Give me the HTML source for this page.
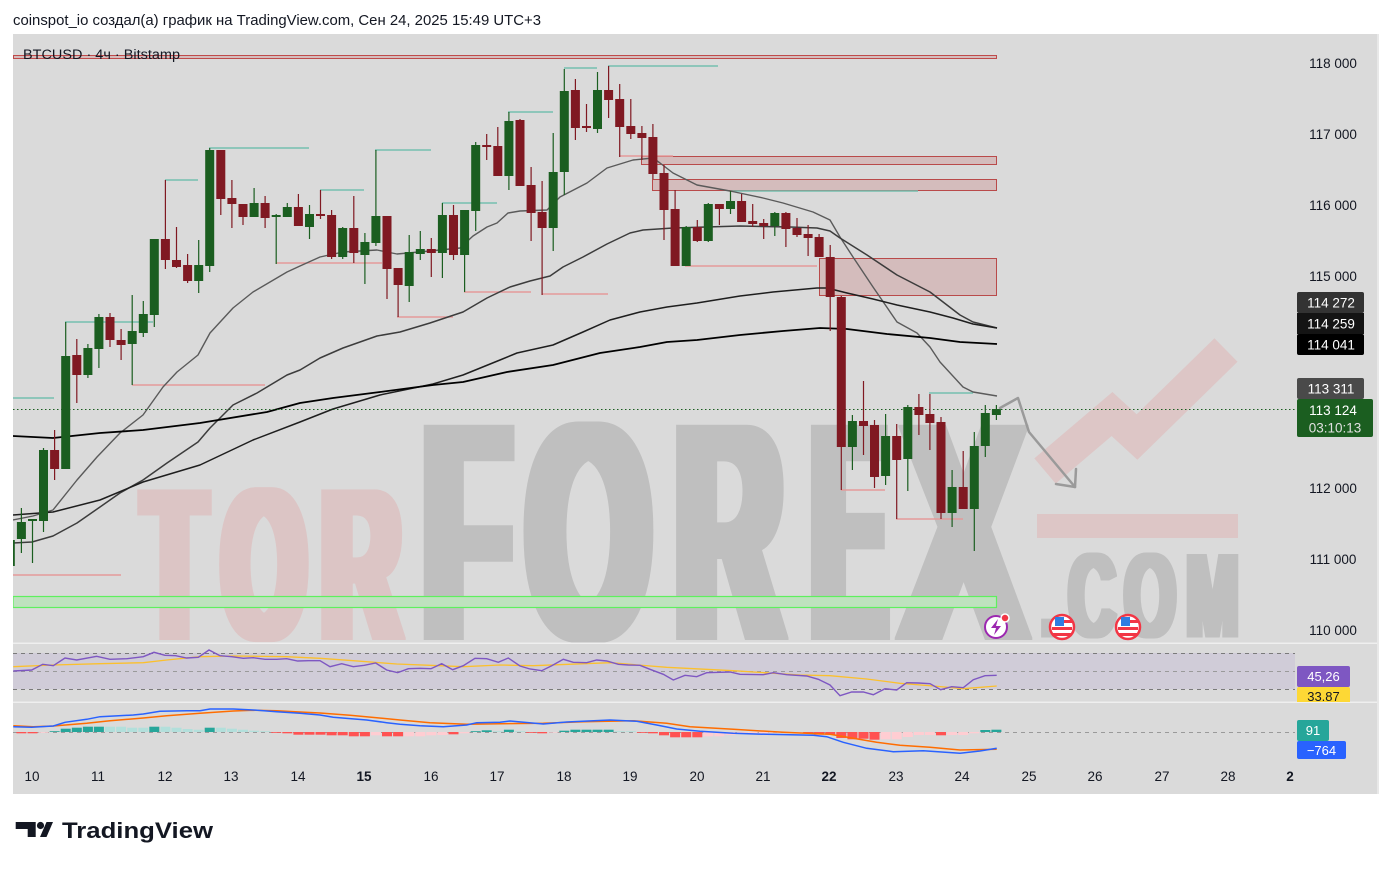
<!DOCTYPE html>
<html><head><meta charset="utf-8"><style>html,body{margin:0;padding:0;background:#fff;}svg{display:block;}</style></head>
<body>
<svg xmlns="http://www.w3.org/2000/svg" width="1391" height="869" viewBox="0 0 1391 869" font-family="Liberation Sans, sans-serif">
<defs>
<clipPath id="mp"><rect x="13" y="34" width="1282" height="609"/></clipPath>
<clipPath id="rp"><rect x="13" y="644" width="1365" height="58"/></clipPath>
<filter id="thk10" x="-20%" y="-10%" width="140%" height="120%"><feMorphology operator="dilate" radius="10 1"/></filter>
<filter id="thk8" x="-20%" y="-10%" width="140%" height="120%"><feMorphology operator="dilate" radius="8 1"/></filter>
<filter id="thk4" x="-20%" y="-10%" width="140%" height="120%"><feMorphology operator="dilate" radius="4 0.5"/></filter>
</defs>
<rect x="0" y="0" width="1391" height="869" fill="#fff"/>
<text x="13" y="25" font-size="14.5" fill="#131722" textLength="528" lengthAdjust="spacingAndGlyphs">coinspot_io создал(а) график на TradingView.com, Сен 24, 2025 15:49 UTC+3</text>
<rect x="13" y="34" width="1364" height="760" fill="#dadada"/>
<rect x="1377" y="34" width="2" height="760" fill="#e8e8e8"/>

<g clip-path="url(#mp)">
<!-- watermark -->
<g fill="#dcc5c5" font-weight="bold" font-size="216" text-anchor="middle" filter="url(#thk8)">
<text transform="translate(174.5,639) scale(0.46,1)">T</text>
<text transform="translate(264,639) scale(0.49,1)">O</text>
<text transform="translate(361,639) scale(0.5,1)">R</text>
</g>
<g fill="#bfbfbf" font-weight="bold" font-size="310" text-anchor="middle" filter="url(#thk10)">
<text transform="translate(467,639) scale(0.45,1)">F</text>
<text transform="translate(588.5,639) scale(0.51,1)">O</text>
<text transform="translate(729,639) scale(0.47,1)">R</text>
<text transform="translate(849,639) scale(0.34,1)">E</text>
<text transform="translate(963.5,639) scale(0.585,1)">X</text>
</g>
<g fill="#bfbfbf" font-weight="bold" font-size="120" text-anchor="middle" filter="url(#thk4)">
<text transform="translate(1052,637) scale(0.8,1)">.</text>
<text transform="translate(1092,637) scale(0.54,1)">C</text>
<text transform="translate(1150,637) scale(0.55,1)">O</text>
<text transform="translate(1212.5,637) scale(0.52,1)">M</text>
</g>
<polyline points="1045,471 1112,414 1137,437 1226,350" fill="none" stroke="#ddc6c6" stroke-width="33"/>
<rect x="1037" y="514" width="201" height="24" fill="#ddc6c6"/>

<!-- zones -->
<rect x="13.5" y="55.5" width="983" height="3" fill="#d4bcbc" stroke="#bf4a4a" stroke-width="1"/>
<rect x="641.5" y="156.5" width="355" height="8" fill="#d4bcbc" stroke="#b94a4a" stroke-width="1"/>
<rect x="652.5" y="179.5" width="344" height="11" fill="#d4bcbc" stroke="#b94a4a" stroke-width="1"/>
<rect x="819.5" y="258.5" width="177" height="37" fill="#d4bcbc" stroke="#b94a4a" stroke-width="1"/>
<rect x="13" y="596.5" width="983.5" height="11" fill="#bee2be" stroke="#5ef05e" stroke-width="1.2"/>

<!-- teal highs -->
<g stroke="#74bfb0" stroke-width="1.6">
<line x1="13" y1="398" x2="54" y2="398"/>
<line x1="165" y1="180" x2="198" y2="180"/>
<line x1="209" y1="148" x2="309" y2="148"/>
<line x1="65" y1="322" x2="153" y2="322"/>
<line x1="320" y1="190" x2="364" y2="190"/>
<line x1="375" y1="150" x2="431" y2="150"/>
<line x1="442" y1="203" x2="497" y2="203"/>
<line x1="508" y1="112" x2="553" y2="112"/>
<line x1="564" y1="68" x2="597" y2="68"/>
<line x1="608" y1="66" x2="718" y2="66"/>
<line x1="730" y1="191" x2="918" y2="191"/>
<line x1="929" y1="393" x2="973" y2="393"/>
</g>
<g stroke="#e49a9a" stroke-width="1.6">
<line x1="13" y1="575" x2="121" y2="575"/>
<line x1="132" y1="385" x2="265" y2="385"/>
<line x1="276" y1="263" x2="382" y2="263"/>
<line x1="397" y1="317" x2="453" y2="317"/>
<line x1="464" y1="292" x2="531" y2="292"/>
<line x1="542" y1="294" x2="608" y2="294"/>
<line x1="619" y1="156" x2="673" y2="156"/>
<line x1="685" y1="266" x2="817" y2="266"/>
<line x1="841" y1="490" x2="885" y2="490"/>
<line x1="896" y1="519" x2="963" y2="519"/>
</g>

<!-- moving averages -->
<g fill="none" stroke-linejoin="round">
<polyline stroke="#5a5a5a" stroke-width="1.4" points="13,520 33,516 53,510 77,480 97,457 120,433 143,415 163,387 177,372 198,355 210,333 233,308 253,292 287,272 300,266 320,257 343,252 377,250 397,254 430,251 460,248 473,236 487,227 497,223 508,213 520,211 547,210 560,197 587,183 607,168 633,160 653,158 660,163 673,173 697,185 730,191 763,198 783,203 813,212 830,220 840,237 853,257 873,287 897,322 917,333 930,347 940,362 963,387 973,392 997,396"/>
<polyline stroke="#3c3c3c" stroke-width="1.5" points="13,543 32,542 53,536 77,523 100,507 120,493 143,480 167,463 198,442 210,428 233,405 257,393 287,375 300,370 320,358 343,348 377,336 400,332 430,323 463,312 487,298 510,287 530,281 550,276 563,267 583,257 607,244 630,233 643,230 673,228 740,226 790,227 817,228 830,231 840,238 867,255 897,275 930,292 960,315 973,322 997,328"/>
<polyline stroke="#1e1e1e" stroke-width="1.5" points="13,515 53,512 100,500 143,482 200,465 253,440 300,422 333,409 380,395 433,384 463,375 500,360 517,353 553,345 583,332 610,320 640,312 667,307 697,303 740,296 773,292 817,288 827,288 847,293 873,299 897,305 930,312 953,318 973,324 997,328"/>
<polyline stroke="#000" stroke-width="1.8" points="13,436 53,438 100,433 143,430 200,423 267,412 300,403 333,398 380,392 433,385 463,382 507,372 553,365 600,353 640,347 667,342 697,340 740,335 783,331 820,328 847,329 887,334 930,338 960,342 997,344"/>
</g>

<!-- price line -->
<line x1="13" y1="409.5" x2="1295" y2="409.5" stroke="#1b5e20" stroke-width="1" stroke-dasharray="1.5,2.5"/>

<!-- green candles -->
<g fill="#1b5e20">
<rect x="5.8" y="540" width="9" height="26"/><rect x="9.7" y="538" width="1.2" height="30"/>
<rect x="16.9" y="522" width="9" height="17"/><rect x="20.8" y="508" width="1.2" height="45"/>
<rect x="28" y="519" width="9" height="2"/><rect x="31.9" y="519" width="1.2" height="44"/>
<rect x="39" y="450" width="9" height="71"/><rect x="42.9" y="448" width="1.2" height="84"/>
<rect x="61.2" y="356" width="9" height="113"/><rect x="65.1" y="322" width="1.2" height="147"/>
<rect x="83.4" y="348" width="9" height="27"/><rect x="87.3" y="344" width="1.2" height="34"/>
<rect x="94.4" y="317" width="9" height="32"/><rect x="98.3" y="314" width="1.2" height="54"/>
<rect x="127.7" y="331" width="9" height="13"/><rect x="131.6" y="295" width="1.2" height="90"/>
<rect x="138.8" y="314" width="9" height="19"/><rect x="142.7" y="301" width="1.2" height="36"/>
<rect x="149.8" y="239" width="9" height="76"/><rect x="153.7" y="239" width="1.2" height="88"/>
<rect x="194.2" y="265" width="9" height="16"/><rect x="198.1" y="240" width="1.2" height="53"/>
<rect x="205.2" y="150" width="9" height="116"/><rect x="209.1" y="148" width="1.2" height="124"/>
<rect x="249.6" y="203" width="9" height="14"/><rect x="253.5" y="188" width="1.2" height="29"/>
<rect x="271.7" y="215" width="9" height="2"/><rect x="275.6" y="214" width="1.2" height="50"/>
<rect x="282.8" y="207" width="9" height="10"/><rect x="286.7" y="203" width="1.2" height="14"/>
<rect x="305" y="214" width="9" height="13"/><rect x="308.9" y="205" width="1.2" height="34"/>
<rect x="338.2" y="228" width="9" height="29"/><rect x="342.1" y="227" width="1.2" height="32"/>
<rect x="360.4" y="242" width="9" height="13"/><rect x="364.3" y="233" width="1.2" height="51"/>
<rect x="371.4" y="216" width="9" height="27"/><rect x="375.3" y="150" width="1.2" height="96"/>
<rect x="404.7" y="252" width="9" height="34"/><rect x="408.6" y="235" width="1.2" height="67"/>
<rect x="415.8" y="249" width="9" height="5"/><rect x="419.7" y="231" width="1.2" height="29"/>
<rect x="437.9" y="215" width="9" height="38"/><rect x="441.8" y="203" width="1.2" height="75"/>
<rect x="460.1" y="210" width="9" height="45"/><rect x="464" y="210" width="1.2" height="82"/>
<rect x="471.2" y="145" width="9" height="66"/><rect x="475.1" y="142" width="1.2" height="89"/>
<rect x="504.4" y="121" width="9" height="55"/><rect x="508.3" y="112" width="1.2" height="78"/>
<rect x="548.7" y="172" width="9" height="56"/><rect x="552.6" y="133" width="1.2" height="118"/>
<rect x="559.8" y="91" width="9" height="81"/><rect x="563.7" y="69" width="1.2" height="126"/>
<rect x="593" y="90" width="9" height="39"/><rect x="596.9" y="72" width="1.2" height="61"/>
<rect x="681.7" y="227" width="9" height="39"/><rect x="685.6" y="226" width="1.2" height="40"/>
<rect x="703.8" y="204" width="9" height="37"/><rect x="707.7" y="203" width="1.2" height="39"/>
<rect x="726" y="201" width="9" height="8"/><rect x="729.9" y="191" width="1.2" height="23"/>
<rect x="770.3" y="213" width="9" height="13"/><rect x="774.2" y="212" width="1.2" height="24"/>
<rect x="847.9" y="421" width="9" height="26"/><rect x="851.8" y="415" width="1.2" height="55"/>
<rect x="881.1" y="436" width="9" height="40"/><rect x="885" y="414" width="1.2" height="71"/>
<rect x="903.3" y="407" width="9" height="52"/><rect x="907.2" y="405" width="1.2" height="86"/>
<rect x="947.6" y="487" width="9" height="26"/><rect x="951.5" y="470" width="1.2" height="57"/>
<rect x="969.8" y="446" width="9" height="63"/><rect x="973.7" y="432" width="1.2" height="119"/>
<rect x="980.8" y="413" width="9" height="33"/><rect x="984.7" y="405" width="1.2" height="52"/>
<rect x="991.9" y="409" width="9" height="6"/><rect x="995.8" y="405" width="1.2" height="15"/>
</g>
<!-- red candles -->
<g fill="#801922">
<rect x="50.1" y="450" width="9" height="19"/><rect x="54" y="430" width="1.2" height="50"/>
<rect x="72.3" y="355" width="9" height="20"/><rect x="76.2" y="339" width="1.2" height="64"/>
<rect x="105.5" y="317" width="9" height="23"/><rect x="109.4" y="313" width="1.2" height="34"/>
<rect x="116.6" y="340" width="9" height="5"/><rect x="120.5" y="329" width="1.2" height="31"/>
<rect x="160.9" y="239" width="9" height="21"/><rect x="164.8" y="180" width="1.2" height="89"/>
<rect x="172" y="260" width="9" height="7"/><rect x="175.9" y="227" width="1.2" height="41"/>
<rect x="183.1" y="265" width="9" height="16"/><rect x="187" y="254" width="1.2" height="29"/>
<rect x="216.3" y="150" width="9" height="49"/><rect x="220.2" y="150" width="1.2" height="65"/>
<rect x="227.4" y="198" width="9" height="6"/><rect x="231.3" y="180" width="1.2" height="48"/>
<rect x="238.5" y="204" width="9" height="13"/><rect x="242.4" y="204" width="1.2" height="21"/>
<rect x="260.6" y="203" width="9" height="15"/><rect x="264.5" y="196" width="1.2" height="32"/>
<rect x="293.9" y="207" width="9" height="19"/><rect x="297.8" y="194" width="1.2" height="32"/>
<rect x="316" y="214" width="9" height="2"/><rect x="319.9" y="190" width="1.2" height="29"/>
<rect x="327.1" y="215" width="9" height="42"/><rect x="331" y="210" width="1.2" height="49"/>
<rect x="349.3" y="228" width="9" height="25"/><rect x="353.2" y="196" width="1.2" height="67"/>
<rect x="382.5" y="216" width="9" height="53"/><rect x="386.4" y="216" width="1.2" height="83"/>
<rect x="393.6" y="268" width="9" height="17"/><rect x="397.5" y="268" width="1.2" height="49"/>
<rect x="426.8" y="249" width="9" height="4"/><rect x="430.7" y="238" width="1.2" height="39"/>
<rect x="449" y="215" width="9" height="40"/><rect x="452.9" y="205" width="1.2" height="55"/>
<rect x="482.2" y="145" width="9" height="2"/><rect x="486.1" y="134" width="1.2" height="26"/>
<rect x="493.3" y="146" width="9" height="30"/><rect x="497.2" y="127" width="1.2" height="49"/>
<rect x="515.5" y="120" width="9" height="66"/><rect x="519.4" y="119" width="1.2" height="67"/>
<rect x="526.6" y="185" width="9" height="28"/><rect x="530.5" y="167" width="1.2" height="74"/>
<rect x="537.6" y="212" width="9" height="16"/><rect x="541.5" y="181" width="1.2" height="114"/>
<rect x="570.9" y="90" width="9" height="38"/><rect x="574.8" y="79" width="1.2" height="61"/>
<rect x="582" y="126" width="9" height="2"/><rect x="585.9" y="104" width="1.2" height="28"/>
<rect x="604.1" y="90" width="9" height="10"/><rect x="608" y="66" width="1.2" height="52"/>
<rect x="615.2" y="99" width="9" height="28"/><rect x="619.1" y="84" width="1.2" height="73"/>
<rect x="626.3" y="126" width="9" height="8"/><rect x="630.2" y="99" width="1.2" height="40"/>
<rect x="637.4" y="133" width="9" height="5"/><rect x="641.3" y="126" width="1.2" height="34"/>
<rect x="648.4" y="137" width="9" height="37"/><rect x="652.3" y="124" width="1.2" height="55"/>
<rect x="659.5" y="173" width="9" height="37"/><rect x="663.4" y="165" width="1.2" height="75"/>
<rect x="670.6" y="209" width="9" height="57"/><rect x="674.5" y="190" width="1.2" height="76"/>
<rect x="692.8" y="227" width="9" height="14"/><rect x="696.7" y="220" width="1.2" height="22"/>
<rect x="714.9" y="204" width="9" height="5"/><rect x="718.8" y="204" width="1.2" height="21"/>
<rect x="737.1" y="201" width="9" height="21"/><rect x="741" y="194" width="1.2" height="28"/>
<rect x="748.2" y="221" width="9" height="3"/><rect x="752.1" y="204" width="1.2" height="23"/>
<rect x="759.2" y="223" width="9" height="3"/><rect x="763.1" y="219" width="1.2" height="20"/>
<rect x="781.4" y="213" width="9" height="16"/><rect x="785.3" y="212" width="1.2" height="35"/>
<rect x="792.5" y="228" width="9" height="7"/><rect x="796.4" y="218" width="1.2" height="19"/>
<rect x="803.6" y="234" width="9" height="4"/><rect x="807.5" y="225" width="1.2" height="31"/>
<rect x="814.6" y="237" width="9" height="20"/><rect x="818.5" y="234" width="1.2" height="23"/>
<rect x="825.7" y="257" width="9" height="40"/><rect x="829.6" y="245" width="1.2" height="86"/>
<rect x="836.8" y="297" width="9" height="150"/><rect x="840.7" y="296" width="1.2" height="194"/>
<rect x="859" y="421" width="9" height="5"/><rect x="862.9" y="381" width="1.2" height="74"/>
<rect x="870" y="425" width="9" height="52"/><rect x="873.9" y="420" width="1.2" height="68"/>
<rect x="892.2" y="436" width="9" height="24"/><rect x="896.1" y="424" width="1.2" height="95"/>
<rect x="914.4" y="407" width="9" height="8"/><rect x="918.3" y="394" width="1.2" height="41"/>
<rect x="925.4" y="414" width="9" height="9"/><rect x="929.3" y="394" width="1.2" height="56"/>
<rect x="936.5" y="422" width="9" height="91"/><rect x="940.4" y="417" width="1.2" height="102"/>
<rect x="958.7" y="487" width="9" height="22"/><rect x="962.6" y="451" width="1.2" height="58"/>
</g>

<!-- drawn arrow -->
<g fill="none" stroke="#9a9a9a" stroke-width="2.5" stroke-linejoin="round" stroke-linecap="round">
<polyline points="1000,408 1018,398 1029,432 1075,487"/>
<polyline points="1056,484 1075,487 1076,469"/>
</g>

<!-- event icons -->
<g>
<circle cx="996" cy="627" r="11" fill="#fff" stroke="#9c27b0" stroke-width="2"/>
<path d="M998,619 L991,628 L996,628 L994,635 L1001,626 L996,626 Z" fill="#9c27b0"/>
<circle cx="1005" cy="618" r="4" fill="#f23645" stroke="#fff" stroke-width="1.5"/>
<g>
<circle cx="1062" cy="627" r="12" fill="#fff" stroke="#f23645" stroke-width="2.5"/>
<rect x="1055" y="617" width="9" height="9" fill="#2f7de1"/>
<rect x="1064" y="620" width="8" height="3" fill="#f23645"/>
<rect x="1052" y="627" width="20" height="3" fill="#f23645"/>
<rect x="1053" y="633" width="18" height="3" fill="#f23645"/>
</g>
<g>
<circle cx="1128" cy="627" r="12" fill="#fff" stroke="#f23645" stroke-width="2.5"/>
<rect x="1121" y="617" width="9" height="9" fill="#2f7de1"/>
<rect x="1130" y="620" width="8" height="3" fill="#f23645"/>
<rect x="1118" y="627" width="20" height="3" fill="#f23645"/>
<rect x="1119" y="633" width="18" height="3" fill="#f23645"/>
</g>
</g>
</g>

<text x="23" y="59" font-size="13.5" fill="#131722" textLength="157" lengthAdjust="spacingAndGlyphs">BTCUSD · 4ч · Bitstamp</text>

<!-- pane separators -->
<rect x="13" y="642.5" width="1364" height="1.5" fill="#efefef"/>
<rect x="13" y="701.5" width="1364" height="1.5" fill="#efefef"/>

<!-- RSI pane -->
<g clip-path="url(#rp)">
<rect x="13" y="653" width="1282" height="36" fill="#d0ccd8"/>
<g stroke-width="1" stroke-dasharray="4,4" fill="none">
<line x1="13" y1="653.5" x2="1295" y2="653.5" stroke="#7a7a7a"/>
<line x1="13" y1="671.5" x2="1295" y2="671.5" stroke="#9a9a9a"/>
<line x1="13" y1="689.5" x2="1295" y2="689.5" stroke="#7a7a7a"/>
</g>
<polyline fill="none" stroke="#fbc02d" stroke-width="1.3" points="13.3,666.7 53.3,665 100,663.7 143.3,662.7 166.7,660 200,656.7 233.3,656 286.7,656.7 320,658.3 353.3,660.7 396.7,664 430,665.3 463.3,666.7 500,665 533.3,665.7 610,662.7 666.7,667.3 733.3,670.7 800,675 830,675.7 866.7,679 900,683.3 933.3,686 963.3,688.7 996.7,686"/>
<polyline fill="none" stroke="#7e57c2" stroke-width="1.4" points="13.3,671 31.7,670 42.7,664.3 53.3,665.7 65,658 76.7,660 96.7,656.3 110,659.3 126.7,658.7 143.3,656.7 154,652.3 165,655.3 175.7,655.7 186.7,658 198.3,657.3 209,650 220,655.7 231.7,656.7 243.3,658.3 253.3,657.7 265,659.3 276.7,659.3 286.7,658.7 297.7,661 308.3,660.7 320,660.7 330,666.7 341.7,663.7 353.3,666.7 364.3,665.3 375.7,663 386.7,670 397.7,672.7 408.3,668.7 420,668.3 431,668.7 441.7,663.7 452.7,669.7 463.3,665.7 475,658.3 486.7,658.7 498.3,662.3 508.3,658 520,666 530,669 541.7,670.7 551.7,665.7 563.3,659.3 573.3,662.3 586.7,662.7 596.7,660 606.7,661 618.3,664.3 628.3,665 640,665.3 650,669.3 663.3,674.3 673.3,680 685,675.3 696.7,676.7 706.7,672.7 720,672.3 730,672 740,674.3 763.3,674.7 773.3,672.7 786.7,674.7 806.7,676 818.3,679.3 830,685 840,695.7 851.7,692 863.3,692 873.3,694.7 885,688.7 896.7,690 906.7,682.7 918.3,683 930,683.7 940.7,689.7 951.7,686.7 963.3,687.7 973.3,679.7 985,675.7 996.7,675.3"/>
<text x="1322" y="676" font-size="13" fill="#131722" text-anchor="middle">50,00</text>
<rect x="1297" y="666" width="53" height="21" rx="2" fill="#7e57c2"/>
<text x="1323.5" y="681" font-size="13" fill="#fff" text-anchor="middle">45,26</text>
<rect x="1297" y="687" width="53" height="21" rx="2" fill="#fdd835"/>
<text x="1323.5" y="701" font-size="13" fill="#131722" text-anchor="middle">33.87</text>
</g>

<!-- MACD pane -->
<line x1="13" y1="732.5" x2="1295" y2="732.5" stroke="#9a9a9a" stroke-width="1" stroke-dasharray="4,4"/>
<g>
<g fill="#ff5252">
<rect x="16.4" y="732" width="10" height="1.3"/><rect x="27.5" y="732" width="10" height="1.3"/>
<rect x="271.2" y="732" width="10" height="0.8"/><rect x="282.3" y="732" width="10" height="1.3"/>
<rect x="293.4" y="732" width="10" height="2.7"/><rect x="304.5" y="732" width="10" height="2.7"/>
<rect x="315.5" y="732" width="10" height="2.7"/><rect x="326.6" y="732" width="10" height="3.3"/>
<rect x="337.7" y="732" width="10" height="3.3"/><rect x="348.8" y="732" width="10" height="4.3"/>
<rect x="359.9" y="732" width="10" height="4.3"/><rect x="382" y="732" width="10" height="4.3"/>
<rect x="393.1" y="732" width="10" height="4.3"/><rect x="448.5" y="732" width="10" height="2.3"/>
<rect x="526.1" y="732" width="10" height="0.8"/><rect x="537.1" y="732" width="10" height="1.3"/>
<rect x="636.9" y="732" width="10" height="0.8"/><rect x="647.9" y="732" width="10" height="1.3"/>
<rect x="659" y="732" width="10" height="3.3"/><rect x="670.1" y="732" width="10" height="5.3"/>
<rect x="681.2" y="732" width="10" height="5.3"/><rect x="692.3" y="732" width="10" height="5.3"/>
<rect x="803.1" y="732" width="10" height="1"/><rect x="814.1" y="732" width="10" height="2.7"/>
<rect x="825.2" y="732" width="10" height="2.7"/><rect x="836.3" y="732" width="10" height="6"/>
<rect x="847.4" y="732" width="10" height="7.3"/><rect x="858.5" y="732" width="10" height="6.7"/>
<rect x="869.5" y="732" width="10" height="7.7"/><rect x="936" y="732" width="10" height="3.3"/>
</g>
<g fill="#ffcdd2">
<rect x="38.5" y="732" width="10" height="0.8"/><rect x="370.9" y="732" width="10" height="3.3"/>
<rect x="404.2" y="732" width="10" height="4.3"/><rect x="415.3" y="732" width="10" height="4.3"/>
<rect x="426.3" y="732" width="10" height="3.3"/><rect x="437.4" y="732" width="10" height="3"/>
<rect x="459.6" y="732" width="10" height="1.3"/><rect x="548.2" y="732" width="10" height="0.6"/>
<rect x="703.3" y="732" width="10" height="4.3"/><rect x="714.4" y="732" width="10" height="4.3"/>
<rect x="725.5" y="732" width="10" height="3"/><rect x="736.6" y="732" width="10" height="2"/>
<rect x="747.7" y="732" width="10" height="1.3"/><rect x="758.7" y="732" width="10" height="1.3"/>
<rect x="769.8" y="732" width="10" height="0.8"/><rect x="780.9" y="732" width="10" height="0.6"/>
<rect x="792" y="732" width="10" height="0.6"/><rect x="880.6" y="732" width="10" height="7.3"/>
<rect x="891.7" y="732" width="10" height="7.3"/><rect x="902.8" y="732" width="10" height="5"/>
<rect x="913.9" y="732" width="10" height="3"/><rect x="924.9" y="732" width="10" height="3"/>
<rect x="947.1" y="732" width="10" height="3"/><rect x="958.2" y="732" width="10" height="3"/>
<rect x="969.3" y="732" width="10" height="1.3"/>
</g>
<g fill="#26a69a">
<rect x="49.6" y="731.2" width="10" height="0.8"/><rect x="60.7" y="728.7" width="10" height="3.3"/>
<rect x="71.8" y="727.7" width="10" height="4.3"/><rect x="82.9" y="726.7" width="10" height="5.3"/>
<rect x="93.9" y="726.7" width="10" height="5.3"/><rect x="149.3" y="726.7" width="10" height="5.3"/>
<rect x="204.7" y="727.7" width="10" height="4.3"/><rect x="470.7" y="731.2" width="10" height="0.8"/>
<rect x="481.7" y="730.3" width="10" height="1.7"/><rect x="503.9" y="729.7" width="10" height="2.3"/>
<rect x="559.3" y="730.7" width="10" height="1.3"/><rect x="570.4" y="729.7" width="10" height="2.3"/>
<rect x="581.5" y="729.7" width="10" height="2.3"/><rect x="592.5" y="729.7" width="10" height="2.3"/>
<rect x="603.6" y="729.7" width="10" height="2.3"/><rect x="980.3" y="730" width="10" height="2"/>
<rect x="991.4" y="729.7" width="10" height="2.3"/>
</g>
<g fill="#b2dfdb">
<rect x="105" y="726.7" width="10" height="5.3"/><rect x="116.1" y="726.7" width="10" height="5.3"/>
<rect x="127.2" y="727.7" width="10" height="4.3"/><rect x="138.3" y="727.7" width="10" height="4.3"/>
<rect x="160.4" y="726.7" width="10" height="5.3"/><rect x="171.5" y="727.7" width="10" height="4.3"/>
<rect x="182.6" y="729" width="10" height="3"/><rect x="193.7" y="729.7" width="10" height="2.3"/>
<rect x="215.8" y="727.7" width="10" height="4.3"/><rect x="226.9" y="728.7" width="10" height="3.3"/>
<rect x="238" y="729.7" width="10" height="2.3"/><rect x="249.1" y="730.7" width="10" height="1.3"/>
<rect x="260.1" y="731.2" width="10" height="0.8"/><rect x="492.8" y="731.2" width="10" height="0.8"/>
<rect x="515" y="731.2" width="10" height="0.8"/><rect x="614.7" y="731.2" width="10" height="0.8"/>
<rect x="625.8" y="731.2" width="10" height="0.8"/>
</g>
</g>
<polyline fill="none" stroke="#ff6d00" stroke-width="1.5" points="13.3,725.7 33.3,726.7 53.3,726 86.7,723.3 110,720.7 143.3,718 166.7,715.7 200,713.3 233.3,711 253.3,710.3 276.7,710.7 300,712 320,713 350,715.3 376.7,717.7 400,720 430,722.7 466.7,724.3 500,723.7 543.3,723.3 583.3,721.7 633.3,720.7 666.7,723.3 690,726.7 733.3,729.3 783.3,732.3 830,734.3 853.3,738.3 876.7,742.3 900,745.3 930,747.3 960,750 996.7,749.3"/>
<polyline fill="none" stroke="#2962ff" stroke-width="1.5" points="13.3,726.7 31.7,727.3 53.3,726 65,722.3 86.7,719.3 100,716.7 133.3,715 143.3,714 160,711.3 186.7,710.7 200,710.7 210,709 233.3,709 253.3,710 276.7,711.7 300,713.3 320,715 333.3,717.3 366.7,720 386.7,722.7 400,724.3 420,725.7 443.3,726.7 466.7,725 476.7,722.7 500,722.3 510,721 543.3,724 566.7,722 610,720 636.7,721.3 656.7,725 676.7,729 700,731.3 733.3,733.3 766.7,734.3 813.3,735.3 826.7,736.7 843.3,742.3 866.7,748.3 893.3,751.7 923.3,750.7 960,753.3 980,751 996.7,748.3"/>
<rect x="1297" y="720" width="32" height="21" rx="2" fill="#26a69a"/>
<text x="1313" y="735" font-size="13" fill="#fff" text-anchor="middle">91</text>
<rect x="1297" y="741" width="49" height="18" rx="2" fill="#2962ff"/>
<text x="1321.5" y="755" font-size="13" fill="#fff" text-anchor="middle">−764</text>

<!-- price axis -->
<g font-size="13.5" fill="#131722" text-anchor="middle">
<text x="1333" y="68">118 000</text>
<text x="1333" y="139">117 000</text>
<text x="1333" y="210">116 000</text>
<text x="1333" y="281">115 000</text>
<text x="1333" y="493">112 000</text>
<text x="1333" y="564">111 000</text>
<text x="1333" y="635">110 000</text>
</g>
<rect x="1297" y="292" width="67" height="21" rx="2" fill="#333333"/>
<rect x="1297" y="313" width="67" height="21" fill="#141414"/>
<rect x="1297" y="334" width="67" height="21" rx="2" fill="#000"/>
<rect x="1297" y="378" width="67" height="21" rx="2" fill="#4a4a4a"/>
<rect x="1297" y="399" width="76" height="38" rx="2" fill="#1b5e20"/>
<g font-size="13.5" fill="#fff" text-anchor="middle">
<text x="1331" y="307.5">114 272</text>
<text x="1331" y="328.5">114 259</text>
<text x="1331" y="349.5">114 041</text>
<text x="1331" y="393.5">113 311</text>
<text x="1333" y="415">113 124</text>
<text x="1335" y="432.5" fill="#e0e0e0">03:10:13</text>
</g>

<!-- time axis -->
<g font-size="13.5" fill="#131722" text-anchor="middle">
<text x="32" y="781">10</text>
<text x="98" y="781">11</text>
<text x="165" y="781">12</text>
<text x="231" y="781">13</text>
<text x="298" y="781">14</text>
<text x="364" y="781" font-weight="bold">15</text>
<text x="431" y="781">16</text>
<text x="497" y="781">17</text>
<text x="564" y="781">18</text>
<text x="630" y="781">19</text>
<text x="697" y="781">20</text>
<text x="763" y="781">21</text>
<text x="829" y="781" font-weight="bold">22</text>
<text x="896" y="781">23</text>
<text x="962" y="781">24</text>
<text x="1029" y="781">25</text>
<text x="1095" y="781">26</text>
<text x="1162" y="781">27</text>
<text x="1228" y="781">28</text>
<text x="1290" y="781" font-weight="bold">2</text>
</g>

<!-- TradingView logo -->
<g fill="#131722">
<path d="M15.7,822 H35.7 V837 H27.7 V829 H15.7 Z"/>
<circle cx="40.5" cy="825.5" r="3.6"/>
<polygon points="40,837 46.5,822 53,822 46.5,837"/>
<text x="62" y="838" font-size="22" font-weight="bold" textLength="151" lengthAdjust="spacingAndGlyphs">TradingView</text>
</g>
</svg>
</body></html>
